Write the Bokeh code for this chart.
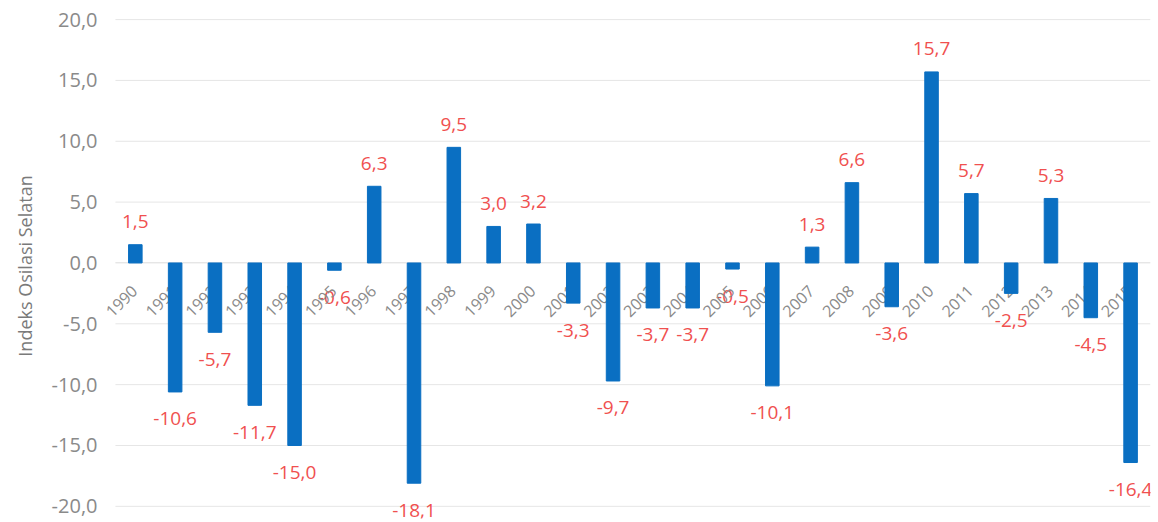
import math
from bokeh.plotting import figure
from bokeh.models import ColumnDataSource, LabelSet, Range1d, FixedTicker
from bokeh.core.properties import value
from bokeh.embed import file_html
from bokeh.resources import INLINE

years = list(range(1990, 2016))
values = [1.5, -10.6, -5.7, -11.7, -15.0, -0.6, 6.3, -18.1, 9.5, 3.0, 3.2, -3.3, -9.7,
          -3.7, -3.7, -0.5, -10.1, 1.3, 6.6, -3.6, 15.7, 5.7, -2.5, 5.3, -4.5, -16.4]
y_ticks = [-20, -15, -10, -5, 0, 5, 10, 15, 20]
y_tick_labels = ["-20,0", "-15,0", "-10,0", "-5,0", "0,0", "5,0", "10,0", "15,0", "20,0"]
y_title = "Indeks Osilasi Selatan"

FONT = "Open Sans"
BAR = "#0a6fc2"
RED = "#f0504f"
GREY = "#8a8a8a"
GRID = "#e6e6e6"

labels_txt = [f"{v:.1f}".replace(".", ",") for v in values]
src = ColumnDataSource(dict(x=years, top=values))
pos = ColumnDataSource(dict(x=[x for x, v in zip(years, values) if v >= 0],
                            y=[v for v in values if v >= 0],
                            txt=[t for t, v in zip(labels_txt, values) if v >= 0]))
neg = ColumnDataSource(dict(x=[x for x, v in zip(years, values) if v < 0],
                            y=[v for v in values if v < 0],
                            txt=[t for t, v in zip(labels_txt, values) if v < 0]))
cats = ColumnDataSource(dict(x=years, y=[0] * len(years), txt=[str(y) for y in years]))
grid = ColumnDataSource(dict(x0=[years[0] - 0.5] * len(y_ticks),
                             x1=[years[-1] + 0.5] * len(y_ticks), y=y_ticks))

p = figure(x_range=Range1d(years[0] - 0.9, years[-1] + 0.5),
           y_range=Range1d(-21.0, 20.5), width=1158, height=522,
           output_backend="svg", toolbar_location=None,
           min_border_left=99, min_border_right=8, min_border_top=13, min_border_bottom=4)
p.outline_line_color = None
p.background_fill_color = "white"
p.xgrid.grid_line_color = None
p.ygrid.grid_line_color = None

# horizontal gridlines spanning only the category area
p.segment(x0="x0", x1="x1", y0="y", y1="y", source=grid, line_color=GRID, line_width=1)

p.vbar(x="x", top="top", bottom=0, width=0.34, color=BAR, source=src, level="overlay")

p.add_layout(LabelSet(x="x", y="y", text="txt", source=pos, y_offset=23,
                      text_align="center", text_baseline="middle",
                      text_color=RED, text_font=value(FONT), text_font_size="19px"))
p.add_layout(LabelSet(x="x", y="y", text="txt", source=neg, y_offset=-27,
                      text_align="center", text_baseline="middle",
                      text_color=RED, text_font=value(FONT), text_font_size="19px"))

# category labels next to the zero line, rotated 45 degrees (behind the bars)
p.add_layout(LabelSet(x="x", y="y", text="txt", source=cats, x_offset=-1, y_offset=-25,
                      angle=math.pi / 4, text_align="right", text_baseline="middle",
                      text_color=GREY, text_font=value(FONT), text_font_size="16px"))

# y axis
p.yaxis.ticker = FixedTicker(ticks=y_ticks)
p.yaxis.major_label_overrides = {t: l for t, l in zip(y_ticks, y_tick_labels)}
p.yaxis.axis_line_color = None
p.yaxis.major_tick_line_color = None
p.yaxis.major_tick_out = 0
p.yaxis.major_tick_in = 0
p.yaxis.minor_tick_line_color = None
p.yaxis.major_label_standoff = 2
p.yaxis.major_label_text_font = FONT
p.yaxis.major_label_text_font_size = "20px"
p.yaxis.major_label_text_color = GREY
p.yaxis.axis_label = y_title
p.yaxis.axis_label_text_font = FONT
p.yaxis.axis_label_text_font_size = "18px"
p.yaxis.axis_label_text_font_style = "normal"
p.yaxis.axis_label_text_color = "#7a7a7a"
p.yaxis.axis_label_standoff = 12

# x axis: only its line, crossing at zero
p.xaxis.ticker = FixedTicker(ticks=years)
p.xaxis.fixed_location = 0
p.xaxis.bounds = (years[0] - 0.5, years[-1] + 0.5)
p.xaxis.axis_line_color = GRID
p.xaxis.major_tick_line_color = None
p.xaxis.minor_tick_line_color = None
p.xaxis.major_label_text_font_size = "0px"
p.xaxis.major_label_text_color = None

open("out.html", "w").write(file_html(p, INLINE))
